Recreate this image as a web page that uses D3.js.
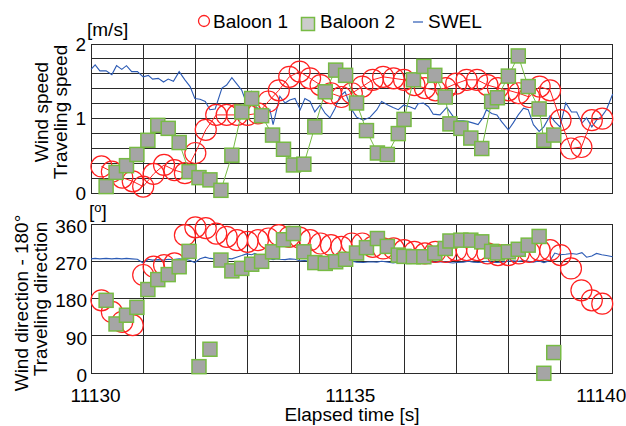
<!DOCTYPE html>
<html>
<head>
<meta charset="utf-8">
<script src="https://cdn.jsdelivr.net/npm/d3@7.9.0/dist/d3.min.js"></script>
<style>
  body { margin: 0; background: #fff; }
  svg { display: block; font-family: "Liberation Sans", Arial, sans-serif; }
</style>
</head>
<body>
<svg id="chart" width="626" height="426"></svg>
<script>
// tick labels
const timeTicks = [11130, 11135, 11140];
const speedTicks = [0, 1, 2];
const dirTicks = [0, 90, 180, 270, 360];
const seriesNames = ['Baloon 1', 'Baloon 2', 'SWEL'];

// Baloon 1
const b1Time = [11130.2, 11130.4, 11130.6, 11130.8, 11131.0, 11131.2, 11131.4, 11131.6, 11131.8, 11132.0,
  11132.2, 11132.4, 11132.6, 11132.8, 11133.0, 11133.2, 11133.4, 11133.6, 11133.8, 11134.0,
  11134.2, 11134.4, 11134.6, 11134.8, 11135.0, 11135.2, 11135.4, 11135.6, 11135.8, 11136.0,
  11136.2, 11136.4, 11136.6, 11136.8, 11137.0, 11137.2, 11137.4, 11137.6, 11137.8, 11138.0,
  11138.2, 11138.4, 11138.6, 11138.8, 11139.0, 11139.2, 11139.4, 11139.6, 11139.8];
const b1Speed = [0.36, 0.29, 0.21, 0.16, 0.09, 0.26, 0.38, 0.31, 0.27, 0.54,
  0.85, 1.05, 1.05, 1.05, 1.05, 1.07, 1.23, 1.38, 1.56, 1.63,
  1.54, 1.45, 1.34, 1.29, 1.34, 1.43, 1.52, 1.56, 1.54, 1.52,
  1.45, 1.41, 1.38, 1.41, 1.47, 1.52, 1.52, 1.45, 1.41, 1.38,
  1.34, 1.29, 1.43, 1.38, 0.98, 0.60, 0.62, 0.98, 1.00];
const b1Dir = [176, 148, 124, 116, 237, 257, 261, 265, 333, 352,
  350, 337, 329, 321, 317, 321, 325, 333, 329, 327,
  321, 313, 309, 305, 313, 313, 305, 301, 301, 297,
  293, 289, 293, 293, 297, 297, 297, 289, 285, 285,
  289, 293, 297, 297, 285, 253, 200, 176, 168];

// Baloon 2
const b2Time = [11130.29, 11130.48, 11130.68, 11130.88, 11131.09, 11131.28, 11131.48, 11131.69, 11131.88, 11132.07,
  11132.28, 11132.49, 11132.70, 11132.89, 11133.08, 11133.27, 11133.48, 11133.69, 11133.88, 11134.08,
  11134.29, 11134.49, 11134.69, 11134.88, 11135.09, 11135.28, 11135.49, 11135.68, 11135.89, 11136.00,
  11136.18, 11136.38, 11136.59, 11136.79, 11136.88, 11137.09, 11137.28, 11137.49, 11137.68, 11137.79,
  11138.00, 11138.19, 11138.38, 11138.59, 11138.68, 11138.87];
const b2Speed = [0.09, 0.28, 0.37, 0.52, 0.71, 0.91, 0.87, 0.68, 0.29, 0.21,
  0.18, 0.04, 0.51, 1.09, 1.27, 1.04, 0.78, 0.59, 0.38, 0.39,
  0.89, 1.36, 1.65, 1.58, 1.21, 0.84, 0.54, 0.52, 0.80, 0.99,
  1.52, 1.70, 1.58, 1.29, 0.93, 0.87, 0.74, 0.60, 1.23, 1.28,
  1.57, 1.84, 1.43, 1.13, 0.71, 0.78];
const b2Dir = [176, 119, 140, 159, 202, 226, 238, 257, 294, 16,
  58, 273, 247, 253, 263, 270, 293, 322, 337, 293,
  267, 265, 269, 275, 290, 303, 325, 306, 285, 282,
  281, 281, 290, 301, 319, 321, 321, 317, 294, 290,
  293, 299, 309, 330, 0, 50];

// SWEL
const swelTime = [11130.00, 11130.08, 11130.17, 11130.29, 11130.40, 11130.49, 11130.59, 11130.68, 11130.78, 11130.89,
  11131.00, 11131.10, 11131.18, 11131.29, 11131.39, 11131.48, 11131.58, 11131.69, 11131.80, 11131.90, 11131.99,
  11132.09, 11132.19, 11132.28, 11132.38, 11132.51, 11132.60, 11132.70, 11132.79, 11132.89, 11132.98,
  11133.08, 11133.14, 11133.24, 11133.34, 11133.43, 11133.49, 11133.56, 11133.62, 11133.72, 11133.81, 11133.91,
  11134.01, 11134.10, 11134.20, 11134.29, 11134.39, 11134.49, 11134.58, 11134.68, 11134.77, 11134.87,
  11135.00, 11135.09, 11135.22, 11135.35, 11135.48, 11135.57, 11135.70, 11135.79, 11135.89, 11135.99,
  11136.11, 11136.21, 11136.27, 11136.37, 11136.47, 11136.56, 11136.69, 11136.82, 11136.94,
  11137.01, 11137.14, 11137.23, 11137.33, 11137.42, 11137.52, 11137.58, 11137.68, 11137.78, 11137.87,
  11138.00, 11138.09, 11138.19, 11138.29, 11138.38, 11138.48, 11138.59, 11138.68, 11138.80, 11138.89, 11138.99,
  11139.10, 11139.21, 11139.31, 11139.41, 11139.50, 11139.60, 11139.69, 11139.79, 11139.88,
  11140.00];
const swelSpeed = [1.66, 1.72, 1.64, 1.64, 1.59, 1.71, 1.66, 1.71, 1.63, 1.63,
  1.56, 1.58, 1.53, 1.54, 1.49, 1.53, 1.50, 1.63, 1.52, 1.43, 1.27,
  1.26, 1.23, 1.12, 1.13, 1.41, 1.45, 1.55, 1.47, 1.38, 1.21,
  1.36, 1.16, 1.13, 1.07, 1.12, 0.92, 1.12, 1.30, 1.21, 1.25, 1.27,
  1.12, 1.27, 1.23, 1.09, 1.18, 1.07, 1.01, 1.14, 1.30, 1.36,
  1.12, 1.02, 0.98, 1.02, 1.12, 1.23, 1.18, 1.15, 1.12, 1.18,
  1.16, 1.13, 1.20, 1.21, 1.16, 1.06, 1.05, 1.15, 1.03,
  0.97, 0.97, 0.96, 0.94, 0.92, 1.02, 1.12, 1.07, 1.05, 0.96,
  0.85, 0.94, 1.05, 1.14, 1.12, 0.92, 0.83, 0.89, 1.04, 0.96, 0.89,
  1.21, 1.09, 1.09, 0.94, 1.01, 0.89, 0.98, 1.03, 1.12,
  1.33];
const swelDir = [276, 277, 276, 277, 276, 277, 276, 277, 276, 275,
  266, 275, 273, 274, 273, 275, 274, 276, 275, 272, 267,
  276, 280, 277, 276, 275, 277, 276, 280, 284, 288,
  286, 289, 283, 277, 276, 274, 276, 275, 274, 276, 275,
  271, 272, 270, 271, 272, 270, 271, 273, 271, 270,
  270, 268, 267, 269, 268, 270, 268, 266, 268, 267,
  270, 268, 267, 268, 270, 268, 269, 268, 266,
  267, 268, 270, 268, 267, 268, 270, 268, 267, 268,
  270, 271, 270, 272, 270, 268, 271, 267, 272, 290, 286,
  287, 289, 287, 291, 280, 283, 289, 286, 284,
  281];

const red = '#ff2020';
const green = '#77bb44';
const blue = '#2c5bb5';

const svg = d3.select('#chart');
const x = d3.scaleLinear().domain([11130, 11140]).range([91, 612.7]);
const ySpeed = d3.scaleLinear().domain([0, 2]).range([193.3, 44]);
const yDir = d3.scaleLinear().domain([0, 360]).range([373.3, 224]);

const pts = (ts, vs) => ts.map((t, i) => ({ t, v: vs[i] }));

// the speed panel joins the markers, the direction panel only plots them
function drawPanel(y, gridVals, s1, s2, s3, joined) {
  const g = svg.append('g');
  const [y0, y1] = y.range();

  g.selectAll('.hg').data(gridVals).join('line')
    .attr('x1', x.range()[0]).attr('x2', x.range()[1])
    .attr('y1', d => y(d)).attr('y2', d => y(d))
    .attr('stroke', '#2a2a2a').attr('stroke-width', 1)
    .attr('shape-rendering', 'crispEdges');
  g.selectAll('.vg').data(x.ticks(10)).join('line')
    .attr('x1', d => x(d)).attr('x2', d => x(d))
    .attr('y1', y1).attr('y2', y0)
    .attr('stroke', '#2a2a2a').attr('stroke-width', 1)
    .attr('shape-rendering', 'crispEdges');

  const line = d3.line().x(d => x(d.t)).y(d => y(d.v));

  g.append('path').datum(s3).attr('d', line)
    .attr('fill', 'none').attr('stroke', blue).attr('stroke-width', 1.1);

  if (joined) {
    g.append('path').datum(s1).attr('d', line)
      .attr('fill', 'none').attr('stroke', red).attr('stroke-width', 1);
  }
  g.selectAll('circle').data(s1).join('circle')
    .attr('cx', d => x(d.t)).attr('cy', d => y(d.v)).attr('r', 10.5)
    .attr('fill', 'none').attr('stroke', red).attr('stroke-width', 1.2);

  if (joined) {
    g.append('path').datum(s2).attr('d', line)
      .attr('fill', 'none').attr('stroke', green).attr('stroke-width', 1);
  }
  g.selectAll('rect').data(s2).join('rect')
    .attr('x', d => x(d.t) - 7).attr('y', d => y(d.v) - 7)
    .attr('width', 14).attr('height', 14)
    .attr('fill', '#a5a5a5').attr('stroke', green).attr('stroke-width', 1.5);
}

drawPanel(ySpeed, ySpeed.ticks(10),
  pts(b1Time, b1Speed), pts(b2Time, b2Speed), pts(swelTime, swelSpeed), true);
drawPanel(yDir, dirTicks,
  pts(b1Time, b1Dir), pts(b2Time, b2Dir), pts(swelTime, swelDir), false);

// axes
const styleAxis = sel => {
  sel.select('.domain').remove();
  sel.selectAll('text').attr('font-size', 19).attr('fill', '#000')
    .attr('font-family', '"Liberation Sans", Arial, sans-serif');
};

svg.append('g').attr('transform', 'translate(91,0)')
  .call(d3.axisLeft(ySpeed).tickValues(speedTicks).tickSize(0).tickPadding(5).tickFormat(d3.format('d')))
  .call(styleAxis);

svg.append('g').attr('transform', 'translate(91,2)')
  .call(d3.axisLeft(yDir).tickValues(dirTicks).tickSize(0).tickPadding(4).tickFormat(d3.format('d')))
  .call(styleAxis);

const xAxis = svg.append('g').attr('transform', 'translate(0,373.3)')
  .call(d3.axisBottom(x).tickValues(timeTicks).tickSize(0).tickPadding(15).tickFormat(d3.format('d')))
  .call(styleAxis);
xAxis.selectAll('text')
  .attr('dx', (d, i) => [4, -2, 13][i])
  .attr('text-anchor', (d, i) => i === 2 ? 'end' : 'middle');

// units
svg.append('text').attr('x', 87).attr('y', 36).attr('font-size', 19).text('[m/s]');
const deg = svg.append('text').attr('x', 89).attr('y', 218).attr('font-size', 19);
deg.append('tspan').text('[');
deg.append('tspan').attr('font-size', 13).attr('dy', -6).text('o');
deg.append('tspan').attr('dy', 6).text(']');

// axis titles
const vTitle = (txt, xb, yc) => svg.append('text')
  .attr('transform', `translate(${xb},${yc}) rotate(-90)`)
  .attr('text-anchor', 'middle').attr('font-size', 19).text(txt);
vTitle('Wind speed', 48, 112);
vTitle('Traveling speed', 67, 112);
vTitle('Wind direction - 180°', 28, 303);
vTitle('Traveling direction', 47, 299);

svg.append('text').attr('x', 352).attr('y', 421)
  .attr('text-anchor', 'middle').attr('font-size', 19).text('Elapsed time [s]');

// legend
const lg = svg.append('g');
lg.append('circle').attr('cx', 204).attr('cy', 21).attr('r', 5.5)
  .attr('fill', 'none').attr('stroke', red).attr('stroke-width', 1.3);
lg.append('text').attr('x', 213).attr('y', 28).attr('font-size', 19).text(seriesNames[0]);
lg.append('rect').attr('x', 301.5).attr('y', 17.5).attr('width', 13).attr('height', 13)
  .attr('fill', '#cccccc').attr('stroke', green).attr('stroke-width', 1.5);
lg.append('text').attr('x', 320).attr('y', 28).attr('font-size', 19).text(seriesNames[1]);
lg.append('line').attr('x1', 413).attr('x2', 423).attr('y1', 22).attr('y2', 22)
  .attr('stroke', blue).attr('stroke-width', 1.2);
lg.append('text').attr('x', 428).attr('y', 28).attr('font-size', 19).text(seriesNames[2]);
</script>
</body>
</html>
